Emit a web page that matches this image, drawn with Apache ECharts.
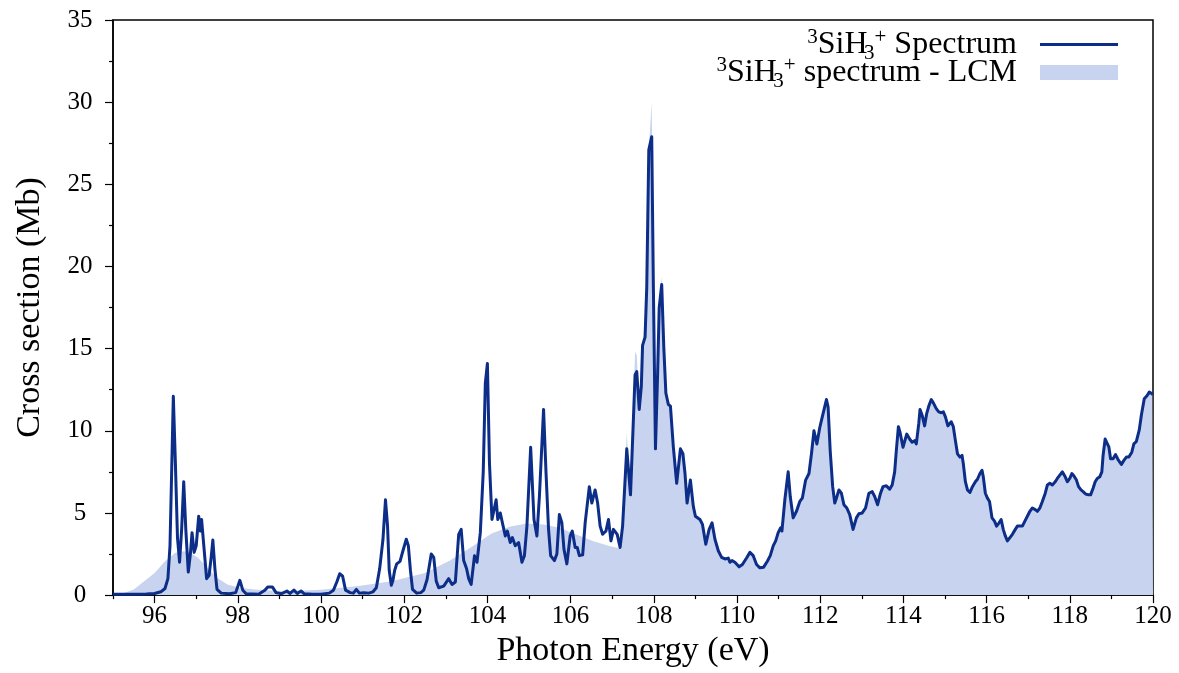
<!DOCTYPE html>
<html>
<head>
<meta charset="utf-8">
<script src="https://cdn.jsdelivr.net/npm/echarts@6/dist/echarts.min.js"></script>
<style>
html,body{margin:0;padding:0;background:#fff;}
#chart{width:1179px;height:673px;}
</style>
</head>
<body>
<div id="chart"></div>
<script>
// ---- Data ----
const specE = [95.0,95.5,95.8,96.0,96.15,96.25,96.32,96.37,96.41,96.45,96.5,96.55,96.6,96.65,96.7,96.75,96.81,96.86,96.9,96.95,97.0,97.06,97.1,97.13,97.19,97.25,97.31,97.36,97.4,97.45,97.5,97.6,97.8,97.95,98.05,98.12,98.2,98.5,98.65,98.72,98.83,98.92,99.05,99.18,99.25,99.35,99.43,99.52,99.6,99.8,100.0,100.2,100.3,100.38,100.45,100.52,100.59,100.7,100.78,100.85,100.92,101.03,101.15,101.25,101.33,101.41,101.49,101.55,101.6,101.64,101.69,101.73,101.77,101.82,101.9,101.97,102.05,102.1,102.15,102.2,102.3,102.4,102.47,102.55,102.65,102.71,102.77,102.83,102.95,103.07,103.15,103.23,103.31,103.37,103.43,103.5,103.55,103.61,103.69,103.75,103.83,103.9,103.95,104.0,104.05,104.11,104.15,104.21,104.25,104.31,104.36,104.43,104.48,104.55,104.6,104.67,104.75,104.83,104.89,104.95,105.04,105.12,105.19,105.25,105.35,105.41,105.47,105.52,105.61,105.67,105.73,105.79,105.84,105.91,105.99,106.04,106.11,106.16,106.21,106.29,106.35,106.45,106.51,106.59,106.65,106.71,106.77,106.85,106.91,106.97,107.03,107.07,107.12,107.19,107.25,107.35,107.44,107.55,107.59,107.65,107.7,107.73,107.79,107.83,107.88,107.95,107.99,108.04,108.09,108.13,108.19,108.24,108.29,108.35,108.4,108.47,108.55,108.64,108.7,108.75,108.8,108.88,108.95,109.0,109.11,109.17,109.25,109.33,109.4,109.47,109.55,109.63,109.71,109.79,109.83,109.88,109.95,110.05,110.13,110.23,110.31,110.39,110.47,110.55,110.64,110.73,110.8,110.87,110.93,110.99,111.05,111.08,111.15,111.23,111.28,111.35,111.43,111.51,111.57,111.65,111.73,111.79,111.85,111.92,111.99,112.05,112.15,112.19,112.24,112.3,112.35,112.39,112.45,112.51,112.57,112.64,112.71,112.79,112.87,112.93,113.01,113.09,113.17,113.25,113.31,113.38,113.45,113.51,113.59,113.67,113.73,113.79,113.83,113.88,113.92,113.99,114.08,114.15,114.21,114.27,114.31,114.37,114.4,114.45,114.51,114.56,114.61,114.67,114.72,114.79,114.85,114.91,114.96,115.01,115.07,115.11,115.15,115.2,115.25,115.3,115.36,115.41,115.44,115.49,115.54,115.6,115.66,115.73,115.78,115.84,115.89,115.92,115.97,116.02,116.07,116.13,116.19,116.24,116.3,116.35,116.4,116.45,116.5,116.56,116.62,116.69,116.74,116.8,116.86,116.92,116.98,117.04,117.1,117.17,117.22,117.28,117.34,117.41,117.46,117.52,117.58,117.65,117.7,117.76,117.82,117.89,117.94,118.0,118.05,118.1,118.16,118.21,118.27,118.32,118.38,118.45,118.5,118.56,118.61,118.66,118.72,118.77,118.8,118.85,118.89,118.94,118.98,119.04,119.1,119.16,119.24,119.3,119.36,119.42,119.49,119.54,119.6,119.67,119.72,119.79,119.86,119.91,119.98,120.0];
const specY = [0.05,0.05,0.06,0.1,0.2,0.4,1.0,3.0,7.5,12.1,8.0,3.5,2.0,4.0,6.9,4.0,1.4,2.5,3.8,2.6,3.0,4.8,3.9,4.6,2.8,1.0,1.2,2.3,3.35,1.6,0.35,0.12,0.08,0.15,0.9,0.3,0.08,0.05,0.3,0.5,0.5,0.15,0.08,0.25,0.1,0.3,0.1,0.25,0.08,0.05,0.05,0.12,0.3,0.8,1.3,1.15,0.3,0.15,0.12,0.35,0.12,0.15,0.12,0.2,0.45,1.6,3.4,5.8,4.2,1.5,0.6,0.9,1.5,1.9,2.05,2.7,3.4,3.0,1.5,0.35,0.12,0.15,0.3,0.95,2.5,2.3,0.85,0.45,0.55,1.0,0.65,0.8,3.7,4.0,2.1,1.6,1.0,0.65,2.4,2.0,3.8,7.5,12.9,14.1,8.0,4.6,4.5,5.8,4.6,5.0,4.4,3.6,3.9,3.2,3.5,3.0,3.2,2.0,2.4,4.2,9.0,4.6,3.6,6.0,11.3,7.4,4.0,2.4,2.1,2.5,4.9,4.4,2.8,1.9,3.6,3.9,2.9,2.9,2.4,2.45,4.4,6.6,5.6,6.4,5.6,4.2,3.7,3.9,4.6,3.3,4.0,3.9,3.7,2.9,4.2,8.9,6.1,13.4,13.6,11.3,12.7,15.2,15.7,18.7,27.1,27.9,18.7,8.9,13.3,17.5,18.9,15.1,12.3,11.6,11.5,9.0,6.8,8.9,8.6,7.4,5.6,7.0,5.4,4.8,4.6,4.3,3.1,4.0,4.4,3.4,2.7,2.3,2.2,2.25,2.0,2.1,2.0,1.72,1.86,2.26,2.6,2.4,1.86,1.66,1.7,2.06,2.4,3.0,3.3,3.8,4.1,3.9,5.8,7.5,6.0,4.7,5.1,5.7,5.9,7.0,7.4,8.6,10.0,9.2,10.2,10.85,11.9,11.45,8.8,6.6,5.6,5.9,6.4,6.2,5.5,5.3,4.9,4.0,4.7,4.95,5.0,5.3,6.2,6.3,6.0,5.5,6.2,6.6,6.65,6.45,6.7,7.5,8.8,10.25,9.9,9.0,9.8,9.5,9.3,9.4,9.2,10.45,11.3,10.95,10.3,11.05,11.5,11.9,11.7,11.35,11.15,11.1,11.15,10.85,10.3,10.25,10.55,10.25,9.4,8.6,8.4,8.5,8.0,6.9,6.4,6.25,6.6,6.9,7.05,7.4,7.6,7.2,6.2,5.9,5.7,4.7,4.5,4.2,4.4,4.6,4.0,3.6,3.3,3.5,3.7,4.0,4.2,4.2,4.2,4.5,4.8,5.1,5.3,5.2,5.1,5.3,5.7,6.2,6.7,6.8,6.7,6.9,7.1,7.3,7.5,7.2,6.9,7.1,7.4,7.25,7.0,6.6,6.4,6.3,6.15,6.1,6.1,6.5,6.9,7.1,7.2,7.5,8.5,9.5,9.6,9.0,8.3,8.3,8.55,8.25,7.95,8.2,8.4,8.4,8.7,9.2,9.35,10.05,10.95,11.95,12.15,12.35,12.25,12.2];

// LCM: smooth envelope below ~107.2 eV
const lcmSmoothE = [95.0,95.25,95.5,95.75,96.0,96.25,96.5,96.7,96.85,97.05,97.27,97.5,97.75,98.05,98.4,98.9,99.3,100.0,100.9,101.7,102.5,103.1,103.6,104.1,104.55,104.95,105.35,105.75,106.15,106.55,106.95,107.15];
const lcmSmoothY = [0.03,0.12,0.34,0.85,1.35,2.06,2.57,2.67,2.6,2.26,1.66,1.05,0.65,0.45,0.34,0.27,0.25,0.32,0.55,0.85,1.35,2.1,2.9,3.75,4.18,4.35,4.3,4.08,3.68,3.27,2.97,2.87];
// LCM peaks that rise above the spectrum line
const lcmPeakE = [107.35,107.55,107.59,107.95,108.19,108.35];
const lcmPeakY = [9.9,14.8,14.6,30.0,19.4,11.9];
const lcmJoinE = 107.17;

const xMajor = [96,98,100,102,104,106,108,110,112,114,116,118,120];
const xMinor = [95,97,99,101,103,105,107,109,111,113,115,117,119];

// ---- Build series data ----
const specData = specE.map((e, i) => [e, specY[i]]);
const lcmData = lcmSmoothE.map((e, i) => [e, lcmSmoothY[i]]).concat(
  specE.map((e, i) => {
    const k = lcmPeakE.indexOf(e);
    return [e, k >= 0 ? lcmPeakY[k] : specY[i]];
  }).filter(p => p[0] > lcmJoinE)
);

const SERIF = "'Liberation Serif', 'DejaVu Serif', serif";
const LINE = '#0c2d88';
const FILL = '#c7d3ef';

const chart = echarts.init(document.getElementById('chart'), null, {renderer: 'canvas'});
const rich = {
  sup: {fontFamily: SERIF, fontSize: 21, color: '#000', lineHeight: 18, padding: [0, 0, 14, 0]},
  sub: {fontFamily: SERIF, fontSize: 21, color: '#000', lineHeight: 18, padding: [18, 0, 0, 6], width: 1},
  n: {fontFamily: SERIF, fontSize: 32, color: '#000', lineHeight: 26}
};
chart.setOption({
  animation: false,
  backgroundColor: '#fff',
  grid: {left: 113, right: 26, top: 20, bottom: 74, show: true, borderColor: '#000', borderWidth: 1.5, backgroundColor: 'transparent'},
  legend: {
    orient: 'vertical', right: 61, top: 25, padding: 0, align: 'right',
    itemWidth: 78, itemHeight: 15, itemGap: -11,
    textStyle: {fontFamily: SERIF, fontSize: 32, color: '#000', padding: [0, 18, 0, 0], rich: rich},
    data: [
      {name: 'spec', icon: 'path://M0,0H78V3H0Z'},
      {name: 'lcm', icon: 'rect'}
    ],
    formatter: function (name) {
      return name === 'spec'
        ? '{sup|3}{n|SiH}{sub|3}{sup|+}{n| Spectrum}'
        : '{sup|3}{n|SiH}{sub|3}{sup|+}{n| spectrum - LCM}';
    }
  },
  xAxis: [{
    type: 'value', min: 95, max: 120, interval: 1,
    name: 'Photon Energy (eV)', nameLocation: 'middle', nameGap: 29,
    nameTextStyle: {fontFamily: SERIF, fontSize: 34, color: '#000'},
    axisLine: {show: true, onZero: false, lineStyle: {color: '#000', width: 1.5}},
    axisTick: {show: true, inside: false, length: 8, customValues: xMajor, lineStyle: {color: '#000', width: 1.2}},
    axisLabel: {show: true, customValues: xMajor, margin: 9, fontFamily: SERIF, fontSize: 25, color: '#000'},
    splitLine: {show: false}
  }, {
    type: 'value', min: 95, max: 120, interval: 1, position: 'bottom',
    axisLine: {show: false},
    axisTick: {show: true, inside: false, length: 4, customValues: xMinor, lineStyle: {color: '#000', width: 1.2}},
    axisLabel: {show: false},
    splitLine: {show: false}
  }],
  yAxis: {
    type: 'value', min: 0, max: 35, interval: 5,
    name: 'Cross section (Mb)', nameLocation: 'middle', nameGap: 66,
    nameTextStyle: {fontFamily: SERIF, fontSize: 34, color: '#000'},
    axisLine: {show: true, lineStyle: {color: '#000', width: 1.5}},
    axisTick: {show: true, inside: false, length: 8, lineStyle: {color: '#000', width: 1.2}},
    minorTick: {show: true, splitNumber: 2, length: 4, lineStyle: {color: '#000', width: 1.2}},
    axisLabel: {margin: 33, align: 'center', fontFamily: SERIF, fontSize: 25, color: '#000'},
    splitLine: {show: false}
  },
  series: [{
    name: 'lcm', type: 'line', data: lcmData, xAxisIndex: 0,
    symbol: 'none', showSymbol: false, smooth: false,
    color: FILL, itemStyle: {color: FILL},
    lineStyle: {width: 0, color: FILL},
    areaStyle: {color: FILL, opacity: 1},
    z: 1
  }, {
    name: 'spec', type: 'line', data: specData, xAxisIndex: 0,
    symbol: 'none', showSymbol: false, smooth: false,
    color: LINE, itemStyle: {color: LINE},
    lineStyle: {width: 3, color: LINE, join: 'round'},
    z: 2
  }]
});
</script>
</body>
</html>
